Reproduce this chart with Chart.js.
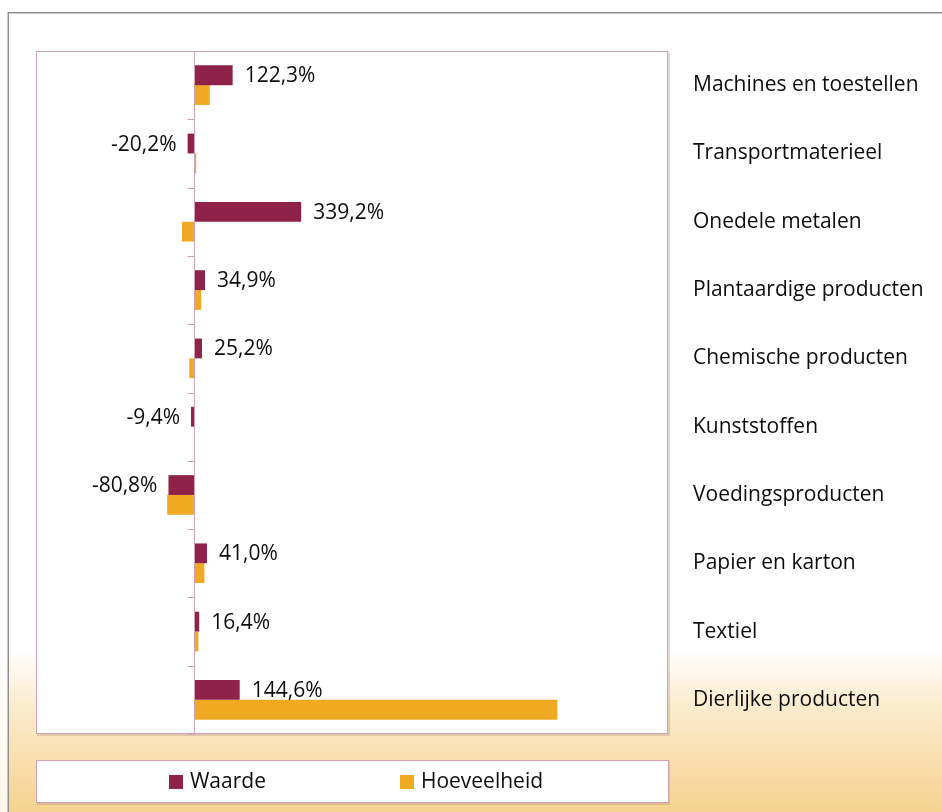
<!DOCTYPE html>
<html>
<head>
<meta charset="utf-8">
<script src="https://cdn.jsdelivr.net/npm/chart.js@4.4.1/dist/chart.umd.min.js"></script>
<style>
html,body{margin:0;padding:0;background:#fff;}
#wrap{width:942px;height:812px;position:relative;}
canvas{display:block;}
</style>
</head>
<body>
<div id="wrap"><canvas id="c" width="942" height="812"></canvas></div>
<script>
// ---- data ----
const categories = [
  'Machines en toestellen',
  'Transportmaterieel',
  'Onedele metalen',
  'Plantaardige producten',
  'Chemische producten',
  'Kunststoffen',
  'Voedingsproducten',
  'Papier en karton',
  'Textiel',
  'Dierlijke producten'
];
const seriesNames = ['Waarde', 'Hoeveelheid'];
const waarde      = [122.3, -20.2, 339.2, 34.9, 25.2, -9.4, -80.8, 41.0, 16.4, 144.6];
const hoeveelheid = [50, 7, -38, 23, -15, 1, -85, 33, 14, 1150];
const axisMin = -500;
const axisMax = 1500;

// ---- styles ----
const FONT = '"Open Sans", "Noto Sans", sans-serif';
const FSIZE = 21;
const PINK = '#d3a0b6';
const COL_W = '#8E2248';
const COL_H = '#F0A922';
const TEXT = '#0d0d0d';

function fmtPct(v){ return v.toFixed(1).replace('.', ',') + '%'; }

const bgPlugin = {
  id: 'bg',
  beforeDraw(chart){
    const ctx = chart.ctx, W = chart.width, H = chart.height;
    ctx.save();
    ctx.fillStyle = '#ffffff';
    ctx.fillRect(0,0,W,H);
    let g0 = ctx.createLinearGradient(0, 650, 0, H);
    g0.addColorStop(0, 'rgba(255,255,255,1)');
    g0.addColorStop(1, '#fff7ea');
    ctx.fillStyle = g0;
    ctx.fillRect(0, 650, 8, H-650);
    let g = ctx.createLinearGradient(0, 650, 0, H);
    g.addColorStop(0, '#ffffff');
    g.addColorStop(0.35, '#fbebcd');
    g.addColorStop(1, '#f5d38f');
    ctx.fillStyle = g;
    ctx.fillRect(8, 650, W-8, H-650);
    ctx.strokeStyle = '#8f8f8f';
    ctx.lineWidth = 1.5;
    ctx.beginPath();
    ctx.moveTo(8.25, H);
    ctx.lineTo(8.25, 12.75);
    ctx.lineTo(W, 12.75);
    ctx.stroke();
    ctx.restore();
  },
  beforeDatasetsDraw(chart){
    const ctx = chart.ctx, a = chart.chartArea;
    ctx.save();
    ctx.fillStyle = 'rgba(150,110,110,0.25)';
    ctx.fillRect(a.left+1, a.top+1, a.right-a.left+1, a.bottom-a.top+1);
    ctx.fillStyle = '#ffffff';
    ctx.fillRect(a.left, a.top, a.right-a.left, a.bottom-a.top);
    ctx.strokeStyle = PINK;
    ctx.lineWidth = 1;
    ctx.strokeRect(a.left+0.5, a.top+0.5, a.right-a.left-1, a.bottom-a.top-1);
    ctx.restore();
  },
  afterDatasetsDraw(chart){
    const ctx = chart.ctx, a = chart.chartArea;
    const xs = chart.scales.x, ys = chart.scales.y;
    const x0 = Math.round(xs.getPixelForValue(0)) + 0.5;
    ctx.save();
    ctx.strokeStyle = PINK;
    ctx.lineWidth = 1;
    ctx.beginPath();
    ctx.moveTo(x0, a.top);
    ctx.lineTo(x0, a.bottom);
    for (let i = 0; i <= categories.length; i++) {
      const y = Math.round(ys.getPixelForValue(i - 0.5)) + 0.5;
      ctx.moveTo(x0 - 7, y);
      ctx.lineTo(x0, y);
    }
    ctx.stroke();
    const meta = chart.getDatasetMeta(0);
    ctx.font = FSIZE + 'px ' + FONT;
    ctx.fillStyle = TEXT;
    ctx.textBaseline = 'middle';
    meta.data.forEach((el, i) => {
      const v = chart.data.datasets[0].data[i];
      const txt = fmtPct(v);
      if (v >= 0) {
        ctx.textAlign = 'left';
        ctx.fillText(txt, el.x + 12, el.y + 1);
      } else {
        ctx.textAlign = 'right';
        ctx.fillText(txt, el.x - 11, el.y + 1);
      }
    });
    ctx.restore();
  },
  afterDraw(chart){
    const ctx = chart.ctx, a = chart.chartArea;
    const top = a.bottom + 26, h = 43;
    ctx.save();
    ctx.fillStyle = 'rgba(150,110,110,0.25)';
    ctx.fillRect(a.left+1, top+1, a.right-a.left+1, h+1);
    ctx.fillStyle = '#ffffff';
    ctx.fillRect(a.left, top, a.right-a.left+1, h);
    ctx.strokeStyle = PINK;
    ctx.lineWidth = 1;
    ctx.strokeRect(a.left+0.5, top+0.5, a.right-a.left, h-1);
    ctx.font = FSIZE + 'px ' + FONT;
    ctx.textBaseline = 'middle';
    ctx.textAlign = 'left';
    const ds = chart.data.datasets;
    const box = 14, gap = 7, spacing = 134;
    const widths = ds.map(d => box + gap + ctx.measureText(d.label).width);
    const total = widths.reduce((s,w)=>s+w,0) + spacing*(ds.length-1);
    let x = (a.left + a.right)/2 + 4 - total/2;
    const cy = top + h/2;
    ds.forEach((d, i) => {
      ctx.fillStyle = d.backgroundColor;
      ctx.fillRect(Math.round(x), Math.round(cy - box/2), box, box);
      ctx.fillStyle = TEXT;
      ctx.fillText(d.label, x + box + gap, cy + 1);
      x += widths[i] + spacing;
    });
    ctx.restore();
  }
};

new Chart(document.getElementById('c'), {
  type: 'bar',
  data: {
    labels: categories,
    datasets: [
      { label: seriesNames[0], data: waarde, backgroundColor: COL_W, borderWidth: 0 },
      { label: seriesNames[1], data: hoeveelheid, backgroundColor: COL_H, borderWidth: 0 }
    ]
  },
  options: {
    indexAxis: 'y',
    responsive: false,
    animation: false,
    devicePixelRatio: 1,
    categoryPercentage: 0.58,
    barPercentage: 1.0,
    layout: { padding: { left: 36, top: 51, right: 0, bottom: 78 } },
    plugins: {
      legend: { display: false },
      tooltip: { enabled: false }
    },
    scales: {
      x: { type: 'linear', min: axisMin, max: axisMax, display: false },
      y: {
        type: 'category',
        position: 'right',
        offset: true,
        grid: { display: false, drawTicks: false },
        border: { display: false },
        ticks: {
          autoSkip: false,
          padding: 25,
          color: TEXT,
          font: { family: FONT, size: FSIZE }
        },
        afterFit(scale){ scale.width = 274; }
      }
    }
  },
  plugins: [bgPlugin]
});
</script>
</body>
</html>
